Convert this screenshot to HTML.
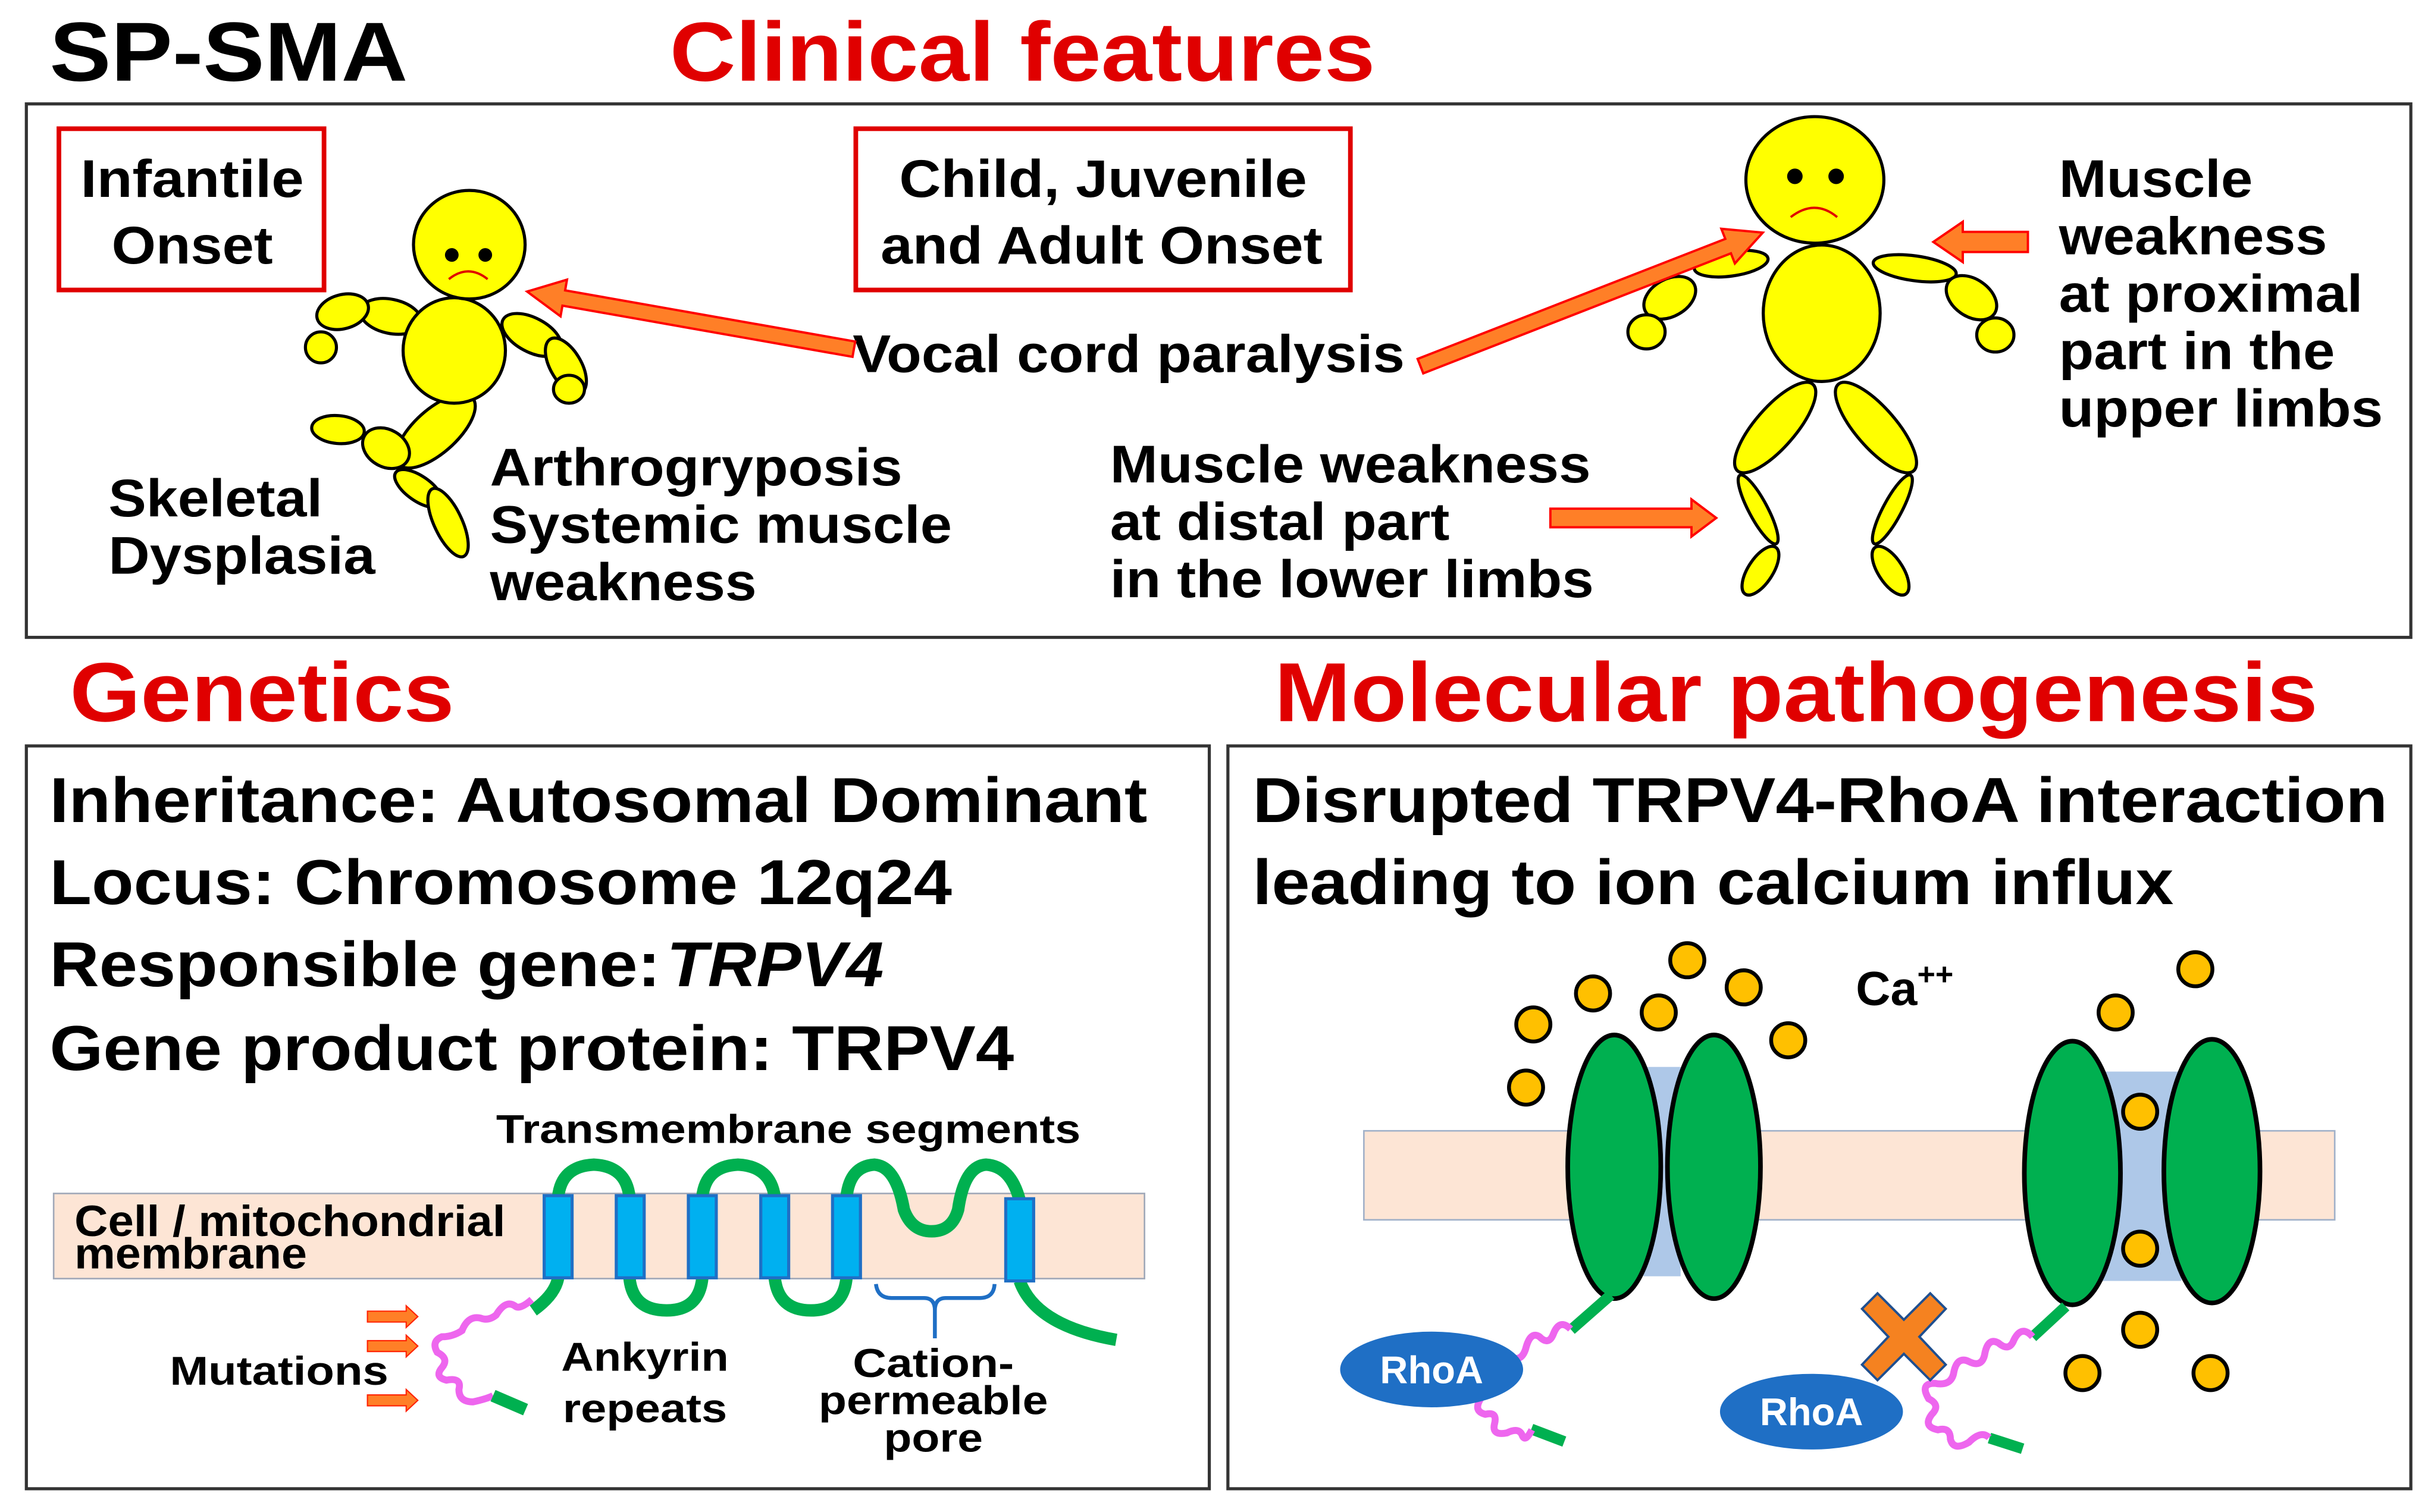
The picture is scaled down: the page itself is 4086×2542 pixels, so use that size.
<!DOCTYPE html>
<html><head><meta charset="utf-8"><style>
html,body{margin:0;padding:0;background:#fff;}
svg{display:block;}
text{font-family:"Liberation Sans",Arial,sans-serif;font-weight:bold;}
</style></head><body>
<svg width="4086" height="2542" viewBox="0 0 1568 975" preserveAspectRatio="none" xmlns="http://www.w3.org/2000/svg">
<rect width="1568" height="975" fill="#fff"/>
<text x="32" y="52" font-size="54" textLength="231" lengthAdjust="spacingAndGlyphs">SP-SMA</text>
<text x="432" y="52" font-size="54" fill="#e00000" textLength="455" lengthAdjust="spacingAndGlyphs">Clinical features</text>
<text x="45" y="465" font-size="54" fill="#e00000" textLength="248" lengthAdjust="spacingAndGlyphs">Genetics</text>
<text x="822" y="465" font-size="54" fill="#e00000" textLength="673" lengthAdjust="spacingAndGlyphs">Molecular pathogenesis</text>
<rect x="17" y="67" width="1538" height="344" fill="none" stroke="#333" stroke-width="2"/>
<rect x="17" y="481" width="763" height="479" fill="none" stroke="#333" stroke-width="2"/>
<rect x="792" y="481" width="763" height="479" fill="none" stroke="#333" stroke-width="2"/>
<rect x="38" y="83" width="171" height="104" fill="none" stroke="#e00000" stroke-width="3"/>
<rect x="552" y="83" width="319" height="104" fill="none" stroke="#e00000" stroke-width="3"/>
<g font-size="34">
<text x="52" y="127" textLength="144" lengthAdjust="spacingAndGlyphs">Infantile</text>
<text x="72" y="170" textLength="104" lengthAdjust="spacingAndGlyphs">Onset</text>
<text x="580" y="127" textLength="263" lengthAdjust="spacingAndGlyphs">Child, Juvenile</text>
<text x="568" y="170" textLength="285" lengthAdjust="spacingAndGlyphs">and Adult Onset</text>
<text x="550" y="240" textLength="356" lengthAdjust="spacingAndGlyphs">Vocal cord paralysis</text>
<text x="70" y="333" textLength="138" lengthAdjust="spacingAndGlyphs">Skeletal</text>
<text x="70" y="370" textLength="172" lengthAdjust="spacingAndGlyphs">Dysplasia</text>
<text x="316" y="313" textLength="266" lengthAdjust="spacingAndGlyphs">Arthrogryposis</text>
<text x="316" y="350" textLength="298" lengthAdjust="spacingAndGlyphs">Systemic muscle</text>
<text x="316" y="387" textLength="172" lengthAdjust="spacingAndGlyphs">weakness</text>
<text x="716" y="311" textLength="310" lengthAdjust="spacingAndGlyphs">Muscle weakness</text>
<text x="716" y="348" textLength="219" lengthAdjust="spacingAndGlyphs">at distal part</text>
<text x="716" y="385" textLength="312" lengthAdjust="spacingAndGlyphs">in the lower limbs</text>
<text x="1328" y="127" textLength="125" lengthAdjust="spacingAndGlyphs">Muscle</text>
<text x="1328" y="164" textLength="173" lengthAdjust="spacingAndGlyphs">weakness</text>
<text x="1328" y="201" textLength="196" lengthAdjust="spacingAndGlyphs">at proximal</text>
<text x="1328" y="238" textLength="178" lengthAdjust="spacingAndGlyphs">part in the</text>
<text x="1328" y="275" textLength="209" lengthAdjust="spacingAndGlyphs">upper limbs</text>
</g>
<g fill="#ffff00" stroke="#000" stroke-width="2">
<ellipse cx="218" cy="277" rx="17" ry="9" transform="rotate(5 218 277)"/>
<ellipse cx="270" cy="315" rx="18" ry="8" transform="rotate(35 270 315)"/>
<ellipse cx="289" cy="337" rx="9" ry="24" transform="rotate(-25 289 337)"/>
<ellipse cx="281" cy="278" rx="32" ry="14" transform="rotate(-42 281 278)"/>
<ellipse cx="249" cy="289" rx="16" ry="12" transform="rotate(30 249 289)"/>
<ellipse cx="252" cy="204" rx="20" ry="11" transform="rotate(12 252 204)"/>
<ellipse cx="221" cy="201" rx="17" ry="11" transform="rotate(-15 221 201)"/>
<ellipse cx="207" cy="224" rx="10" ry="10"/>
<ellipse cx="343" cy="216" rx="21" ry="11" transform="rotate(28 343 216)"/>
<ellipse cx="365" cy="236" rx="10" ry="20" transform="rotate(-30 365 236)"/>
<ellipse cx="367" cy="251" rx="10" ry="9"/>
<ellipse cx="293" cy="226" rx="33" ry="34"/>
<ellipse cx="302.7" cy="157.8" rx="36" ry="35"/>
</g>
<circle cx="291.4" cy="164.4" r="4.4"/><circle cx="313" cy="164.4" r="4.4"/>
<path d="M289.5 180 Q302 170 314.5 180" fill="none" stroke="#e00000" stroke-width="1.5"/>
<g fill="#ffff00" stroke="#000" stroke-width="2">
<ellipse cx="1116.6" cy="170" rx="24" ry="8" transform="rotate(-8 1116.6 170)"/>
<ellipse cx="1077" cy="192" rx="18" ry="12" transform="rotate(-30 1077 192)"/>
<ellipse cx="1062" cy="214" rx="12" ry="11"/>
<ellipse cx="1235" cy="173" rx="27" ry="8" transform="rotate(8 1235 173)"/>
<ellipse cx="1271.6" cy="192" rx="18" ry="12" transform="rotate(35 1271.6 192)"/>
<ellipse cx="1287" cy="216" rx="12" ry="11"/>
<ellipse cx="1145" cy="275.7" rx="37" ry="13" transform="rotate(-49 1145 275.7)"/>
<ellipse cx="1210" cy="275.7" rx="37" ry="13" transform="rotate(49 1210 275.7)"/>
<ellipse cx="1134" cy="328.5" rx="25" ry="6" transform="rotate(62 1134 328.5)"/>
<ellipse cx="1220.6" cy="328.5" rx="25" ry="6" transform="rotate(-62 1220.6 328.5)"/>
<ellipse cx="1135.5" cy="368" rx="18" ry="8" transform="rotate(-57 1135.5 368)"/>
<ellipse cx="1219.4" cy="368" rx="18" ry="8" transform="rotate(57 1219.4 368)"/>
<ellipse cx="1175" cy="202" rx="37.7" ry="44"/>
<ellipse cx="1170.6" cy="116" rx="44.5" ry="40.8"/>
</g>
<circle cx="1157.7" cy="113.7" r="5"/><circle cx="1184.3" cy="113.7" r="5"/>
<path d="M1155 140 Q1170.6 128 1185 140" fill="none" stroke="#e00000" stroke-width="1.5"/>
<g fill="#ff7f27" stroke="#ff0000" stroke-width="1.5">
<g transform="translate(340 188) rotate(10)">
<polygon points="0,0 24,-12 24,-5 214,-5 214,5 24,5 24,12"/>
</g>
<g transform="translate(1137 150) rotate(158.7)">
<polygon points="0,0 24,-12 24,-5 237,-5 237,5 24,5 24,12"/>
</g>
<polygon points="1247,156 1266,143 1266,149.5 1308,149.5 1308,162.5 1266,162.5 1266,169"/>
<polygon points="1107,334 1091,322 1091,328 1000,328 1000,340 1091,340 1091,346"/>
</g>
<g font-size="41">
<text x="32" y="530" textLength="708" lengthAdjust="spacingAndGlyphs">Inheritance: Autosomal Dominant</text>
<text x="32" y="583" textLength="582" lengthAdjust="spacingAndGlyphs">Locus: Chromosome 12q24</text>
<text x="32" y="636" textLength="394" lengthAdjust="spacingAndGlyphs">Responsible gene:</text>
<text x="430" y="636" font-style="italic" textLength="140" lengthAdjust="spacingAndGlyphs">TRPV4</text>
<text x="32" y="690" textLength="622" lengthAdjust="spacingAndGlyphs">Gene product protein: TRPV4</text>
<text x="808" y="530" textLength="732" lengthAdjust="spacingAndGlyphs">Disrupted TRPV4-RhoA interaction</text>
<text x="808" y="583" textLength="594" lengthAdjust="spacingAndGlyphs">leading to ion calcium influx</text>
</g>
<text x="320" y="737" font-size="26" textLength="377" lengthAdjust="spacingAndGlyphs">Transmembrane segments</text>
<rect x="34.6" y="769.6" width="703.6" height="54.9" fill="#fde5d5" stroke="#a0a8b8" stroke-width="1"/>
<text x="48" y="797" font-size="28" textLength="278" lengthAdjust="spacingAndGlyphs">Cell / mitochondrial</text>
<text x="48" y="818" font-size="28" textLength="150" lengthAdjust="spacingAndGlyphs">membrane</text>
<path d="M343.9 845 Q358 835 360 824 M360 772 Q362 752 383 751 Q404 752 406 772 M406 824 Q408 845 430 845 Q451 845 453 824 M453 772 Q455 752 476 751 Q497 752 499.7 772 M499.7 824 Q502 845 523 845 Q544 845 546 824 M546 772 Q548 752 564 751 Q578 752 583 780 Q588 794 601 794 Q614 794 618 780 Q622 752 636 751 Q652 752 657.7 774 M657.7 826 Q668 855 720 864" fill="none" stroke="#00b050" stroke-width="8"/>
<g fill="#00b0f0" stroke="#1f6fc5" stroke-width="2">
<rect x="351" y="771" width="18" height="53"/><rect x="397.5" y="771" width="18" height="53"/><rect x="444" y="771" width="18" height="53"/><rect x="490.7" y="771" width="18" height="53"/><rect x="537" y="771" width="18" height="53"/><rect x="648.7" y="773" width="18" height="53"/>
</g>
<path d="M343 838 Q335 845 332 842 Q326 838 320 848 Q315 852 310 850 Q302 848 298 858 Q292 862 285 862 Q278 865 282 872 Q290 876 285 882 Q280 888 288 890 Q298 888 296 896 Q296 904 305 904 Q314 902 318 900" fill="none" stroke="#ee66ee" stroke-width="4.5"/>
<path d="M318 900 L339 909" stroke="#00b050" stroke-width="8"/>
<g fill="#ff7f27" stroke="#ff2000" stroke-width="0.8">
<polygon points="237,845.5 262,845.5 262,842 269.5,849 262,856 262,852.5 237,852.5"/>
<polygon points="237,864.5 262,864.5 262,861 269.5,868 262,875 262,871.5 237,871.5"/>
<polygon points="237,899.5 262,899.5 262,896 269.5,903 262,910 262,906.5 237,906.5"/>
</g>
<path d="M565 828 Q566 837 575 837 L596 837 Q603 837 603 845 L603 863 M603 845 Q603 837 610 837 L632 837 Q641 837 641.5 828" fill="none" stroke="#1f6fc5" stroke-width="2.5"/>
<g font-size="26" text-anchor="middle">
<text x="180" y="893" textLength="141" lengthAdjust="spacingAndGlyphs">Mutations</text>
<text x="416" y="884" textLength="108" lengthAdjust="spacingAndGlyphs">Ankyrin</text>
<text x="416" y="917" textLength="106" lengthAdjust="spacingAndGlyphs">repeats</text>
<text x="602" y="888" textLength="104" lengthAdjust="spacingAndGlyphs">Cation-</text>
<text x="602" y="912" textLength="148" lengthAdjust="spacingAndGlyphs">permeable</text>
<text x="602" y="936" textLength="64" lengthAdjust="spacingAndGlyphs">pore</text>
</g>
<rect x="879.7" y="729.2" width="626.2" height="57.4" fill="#fde5d5" stroke="#a0b0c8" stroke-width="1"/>
<rect x="1060" y="688" width="24" height="135" fill="#aec8e8"/>
<rect x="1356" y="691" width="51" height="135" fill="#aec8e8"/>
<g fill="#00b050" stroke="#000" stroke-width="3">
<ellipse cx="1041.2" cy="752.4" rx="30" ry="85"/>
<ellipse cx="1105.5" cy="752.4" rx="30" ry="85"/>
<ellipse cx="1336.7" cy="756.4" rx="31" ry="85"/>
<ellipse cx="1426.7" cy="755.2" rx="31" ry="85"/>
</g>
<g fill="#ffc000" stroke="#000" stroke-width="2.5">
<circle cx="989" cy="660.6" r="11"/><circle cx="1027.5" cy="640.6" r="11"/><circle cx="1088.3" cy="619.2" r="11"/><circle cx="1069.9" cy="652.9" r="11"/><circle cx="1124.7" cy="636.7" r="11"/><circle cx="1153.4" cy="670.8" r="11"/><circle cx="984.3" cy="701.3" r="11"/>
<circle cx="1416" cy="625" r="11"/><circle cx="1364.6" cy="652.9" r="11"/><circle cx="1380.4" cy="716.9" r="11"/><circle cx="1380.4" cy="805.2" r="11"/><circle cx="1380.4" cy="857.5" r="11"/><circle cx="1343.2" cy="885.4" r="11"/><circle cx="1425.8" cy="885.4" r="11"/>
</g>
<text x="1197" y="648" font-size="31">Ca<tspan font-size="20" dy="-13">++</tspan></text>
<g stroke="#00b050" stroke-width="7">
<line x1="1039" y1="835" x2="1013.4" y2="857.5"/><line x1="987.7" y1="921.5" x2="1009" y2="929.6"/>
<line x1="1332.4" y1="842.4" x2="1311" y2="862.2"/><line x1="1283.2" y1="927.3" x2="1304.6" y2="934.2"/>
</g>
<g fill="none" stroke="#ee66ee" stroke-width="4.5">
<path d="M1013 857 Q1006 850 1002 860 Q999 868 993 862 Q987 858 984 870 Q982 876 978 876"/>
<path d="M955 902 Q950 910 958 912 Q966 910 964 918 Q962 926 972 924 Q980 920 982 926 Q984 930 988 922"/>
<path d="M1311 862 Q1304 854 1299 864 Q1296 872 1289 866 Q1282 862 1280 874 Q1278 882 1270 878 Q1262 874 1260 886 Q1258 894 1248 892 Q1238 892 1244 902 Q1252 906 1246 912 Q1240 920 1250 922 Q1258 920 1258 928 Q1260 936 1270 930 Q1278 922 1283 927"/>
</g>
<ellipse cx="923.4" cy="883.1" rx="59" ry="24.4" fill="#1f6fc5"/>
<ellipse cx="1168.4" cy="910.3" rx="59" ry="24.4" fill="#1f6fc5"/>
<text x="923.4" y="892" font-size="25" fill="#fff" text-anchor="middle">RhoA</text>
<text x="1168.4" y="919" font-size="25" fill="#fff" text-anchor="middle">RhoA</text>
<g transform="translate(1228 862)">
<polygon points="-27,-18 -17,-28 0,-11 17,-28 27,-18 10,0 27,18 17,28 0,11 -17,28 -27,18 -10,0" fill="#f58220" stroke="#1f4f8f" stroke-width="1.5"/>
</g>
</svg>
</body></html>
